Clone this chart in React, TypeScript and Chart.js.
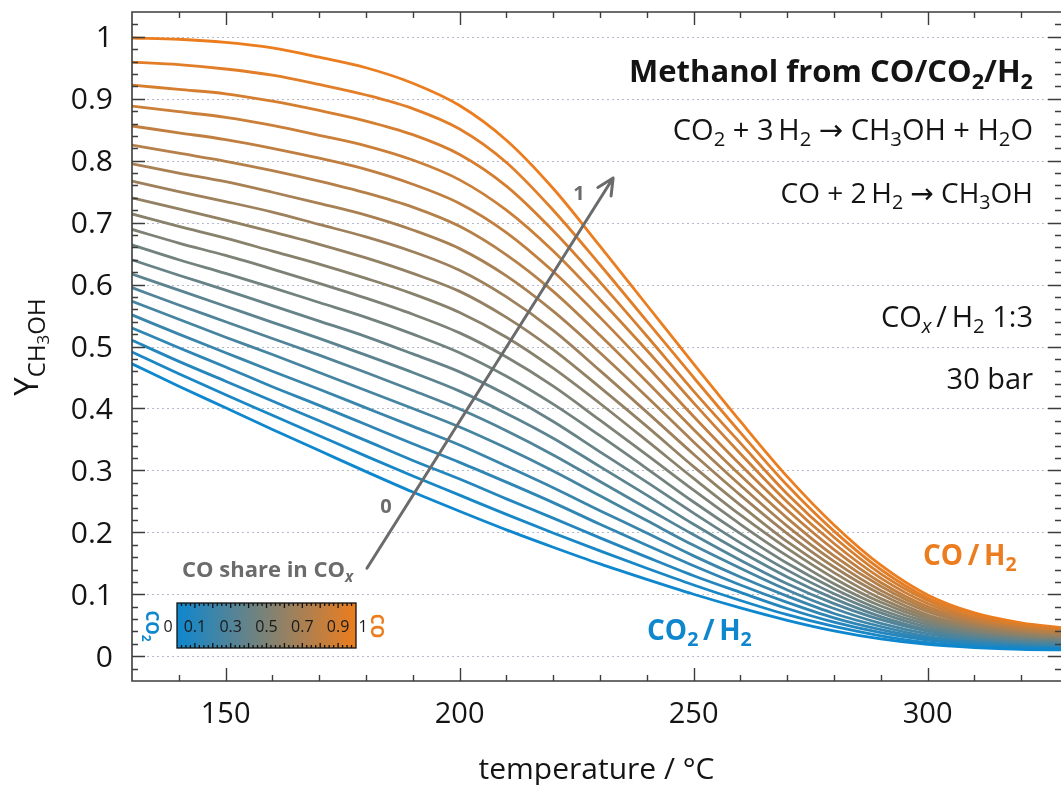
import { useEffect, useRef } from 'react';
import { Chart, registerables } from 'chart.js';

Chart.register(...registerables);

// temperature / °C
const temperatures = [130, 140, 150, 160, 170, 180, 190, 200, 210, 220, 230, 240, 250, 260, 270, 280, 290, 300, 310, 320, 330];

// methanol yield Y_CH3OH for each CO share in COx
const share00 = [0.472, 0.436, 0.401, 0.366, 0.332, 0.298, 0.265, 0.234, 0.204, 0.176, 0.149, 0.124, 0.100, 0.078, 0.058, 0.041, 0.028, 0.019, 0.014, 0.011, 0.010];
const share05 = [0.491, 0.456, 0.422, 0.389, 0.356, 0.323, 0.291, 0.260, 0.229, 0.199, 0.170, 0.142, 0.115, 0.090, 0.067, 0.048, 0.033, 0.022, 0.016, 0.013, 0.011];
const share10 = [0.510, 0.476, 0.444, 0.412, 0.380, 0.348, 0.316, 0.286, 0.254, 0.223, 0.191, 0.160, 0.130, 0.103, 0.077, 0.055, 0.038, 0.026, 0.019, 0.015, 0.013];
const share15 = [0.530, 0.498, 0.467, 0.435, 0.405, 0.374, 0.343, 0.313, 0.281, 0.248, 0.213, 0.179, 0.146, 0.115, 0.087, 0.062, 0.043, 0.029, 0.021, 0.016, 0.014];
const share20 = [0.551, 0.520, 0.490, 0.460, 0.431, 0.401, 0.371, 0.341, 0.307, 0.272, 0.235, 0.199, 0.162, 0.128, 0.097, 0.069, 0.048, 0.032, 0.023, 0.018, 0.016];
const share25 = [0.573, 0.544, 0.515, 0.487, 0.458, 0.429, 0.400, 0.370, 0.336, 0.299, 0.259, 0.219, 0.179, 0.142, 0.107, 0.077, 0.053, 0.036, 0.026, 0.020, 0.017];
const share30 = [0.595, 0.567, 0.540, 0.513, 0.486, 0.458, 0.429, 0.399, 0.364, 0.325, 0.282, 0.239, 0.196, 0.155, 0.117, 0.085, 0.059, 0.040, 0.028, 0.022, 0.019];
const share35 = [0.617, 0.591, 0.565, 0.539, 0.513, 0.486, 0.458, 0.428, 0.392, 0.352, 0.306, 0.260, 0.213, 0.169, 0.128, 0.093, 0.064, 0.043, 0.031, 0.024, 0.021];
const share40 = [0.640, 0.615, 0.591, 0.566, 0.541, 0.516, 0.488, 0.459, 0.422, 0.379, 0.330, 0.281, 0.231, 0.183, 0.139, 0.101, 0.070, 0.047, 0.034, 0.026, 0.022];
const share45 = [0.664, 0.640, 0.618, 0.595, 0.571, 0.547, 0.520, 0.490, 0.452, 0.407, 0.356, 0.303, 0.249, 0.198, 0.150, 0.109, 0.075, 0.051, 0.036, 0.028, 0.024];
const share50 = [0.689, 0.667, 0.647, 0.625, 0.602, 0.578, 0.552, 0.522, 0.483, 0.436, 0.381, 0.325, 0.268, 0.213, 0.162, 0.117, 0.081, 0.055, 0.039, 0.030, 0.026];
const share55 = [0.714, 0.694, 0.675, 0.654, 0.633, 0.610, 0.585, 0.555, 0.515, 0.465, 0.408, 0.348, 0.287, 0.228, 0.174, 0.126, 0.087, 0.059, 0.042, 0.032, 0.027];
const share60 = [0.740, 0.722, 0.704, 0.685, 0.665, 0.643, 0.618, 0.589, 0.547, 0.495, 0.434, 0.371, 0.306, 0.244, 0.185, 0.135, 0.093, 0.063, 0.045, 0.035, 0.029];
const share65 = [0.767, 0.750, 0.734, 0.717, 0.697, 0.677, 0.653, 0.623, 0.580, 0.526, 0.461, 0.394, 0.326, 0.260, 0.198, 0.144, 0.100, 0.067, 0.048, 0.037, 0.031];
const share70 = [0.795, 0.780, 0.766, 0.749, 0.731, 0.712, 0.688, 0.658, 0.614, 0.557, 0.490, 0.419, 0.346, 0.276, 0.210, 0.153, 0.106, 0.072, 0.051, 0.039, 0.033];
const share75 = [0.825, 0.812, 0.799, 0.784, 0.767, 0.748, 0.725, 0.694, 0.648, 0.589, 0.518, 0.443, 0.366, 0.292, 0.223, 0.162, 0.113, 0.076, 0.054, 0.042, 0.035];
const share80 = [0.856, 0.845, 0.834, 0.820, 0.804, 0.786, 0.762, 0.731, 0.684, 0.621, 0.547, 0.468, 0.387, 0.309, 0.236, 0.172, 0.119, 0.080, 0.057, 0.044, 0.037];
const share85 = [0.888, 0.879, 0.870, 0.857, 0.841, 0.824, 0.801, 0.769, 0.720, 0.654, 0.576, 0.494, 0.409, 0.327, 0.249, 0.182, 0.126, 0.085, 0.060, 0.046, 0.039];
const share90 = [0.922, 0.915, 0.908, 0.896, 0.881, 0.864, 0.842, 0.810, 0.759, 0.687, 0.604, 0.517, 0.428, 0.344, 0.262, 0.192, 0.133, 0.090, 0.063, 0.049, 0.041];
const share95 = [0.959, 0.955, 0.948, 0.938, 0.923, 0.906, 0.884, 0.851, 0.797, 0.720, 0.632, 0.541, 0.450, 0.361, 0.276, 0.202, 0.140, 0.094, 0.067, 0.051, 0.043];
const share100 = [0.998, 0.996, 0.991, 0.982, 0.967, 0.950, 0.925, 0.889, 0.833, 0.755, 0.662, 0.567, 0.472, 0.379, 0.290, 0.212, 0.147, 0.099, 0.070, 0.054, 0.045];

const coShares = [0, 0.05, 0.1, 0.15, 0.2, 0.25, 0.3, 0.35, 0.4, 0.45, 0.5, 0.55, 0.6, 0.65, 0.7, 0.75, 0.8, 0.85, 0.9, 0.95, 1];
const yieldSeries = [share00, share05, share10, share15, share20, share25, share30, share35, share40, share45, share50, share55, share60, share65, share70, share75, share80, share85, share90, share95, share100];

const xTickValues = [150, 200, 250, 300];
const xTickLabels = ['150', '200', '250', '300'];
const yTickValues = [0, 0.1, 0.2, 0.3, 0.4, 0.5, 0.6, 0.7, 0.8, 0.9, 1];
const yTickLabels = ['0', '0.1', '0.2', '0.3', '0.4', '0.5', '0.6', '0.7', '0.8', '0.9', '1'];
const colorbarValues = [0.1, 0.3, 0.5, 0.7, 0.9];
const colorbarLabels = ['0.1', '0.3', '0.5', '0.7', '0.9'];

const BLUE = [14, 135, 206];
const ORANGE = [236, 125, 30];
const GRAY = '#6b6b6b';
const INK = '#141414';
const FAMILY = "'Open Sans', 'DejaVu Sans', sans-serif";

function mixColor(s: number) {
  const c = BLUE.map((b, i) => Math.round(b + (ORANGE[i] - b) * s));
  return `rgb(${c[0]},${c[1]},${c[2]})`;
}

type Seg = { t: string; size: number; dy?: number; italic?: boolean };

function sub(t: string, size: number, italic = false): Seg {
  return { t, size: size * 0.7, dy: size * 0.22, italic };
}

function drawSegs(ctx: CanvasRenderingContext2D, segs: Seg[], x: number, y: number, align: 'left' | 'center' | 'right', color: string, weight = 'normal') {
  ctx.save();
  ctx.textBaseline = 'alphabetic';
  ctx.textAlign = 'left';
  ctx.fillStyle = color;
  const fontOf = (s: Seg) => `${s.italic ? 'italic ' : ''}${weight} ${s.size}px ${FAMILY}`;
  const widths = segs.map((s) => {
    ctx.font = fontOf(s);
    return ctx.measureText(s.t).width;
  });
  const w = widths.reduce((a, b) => a + b, 0);
  let cx = align === 'left' ? x : align === 'center' ? x - w / 2 : x - w;
  segs.forEach((s, i) => {
    ctx.font = fontOf(s);
    ctx.fillText(s.t, cx, y + (s.dy || 0));
    cx += widths[i];
  });
  ctx.restore();
}

const overlay = {
  id: 'overlay',
  beforeDatasetsDraw(chart: any) {
    const { ctx, chartArea: a, scales } = chart;
    ctx.save();
    ctx.strokeStyle = '#b2bacb';
    ctx.lineWidth = 1;
    ctx.setLineDash([2, 3]);
    yTickValues.forEach((v) => {
      const py = Math.round(scales.y.getPixelForValue(v)) + 0.5;
      ctx.beginPath();
      ctx.moveTo(a.left, py);
      ctx.lineTo(a.right, py);
      ctx.stroke();
    });
    ctx.restore();
  },
  afterDatasetsDraw(chart: any) {
    const { ctx, chartArea: a, scales } = chart;
    const xs = scales.x;
    const ys = scales.y;

    // frame
    ctx.save();
    ctx.strokeStyle = '#3c3c3c';
    ctx.lineWidth = 1.6;
    ctx.beginPath();
    ctx.moveTo(a.right + 2, a.top);
    ctx.lineTo(a.left, a.top);
    ctx.lineTo(a.left, a.bottom);
    ctx.lineTo(a.right + 2, a.bottom);
    ctx.stroke();

    // x ticks (inward, top and bottom)
    ctx.lineWidth = 1.4;
    for (let t = 140; t <= 330; t += 10) {
      const px = Math.round(xs.getPixelForValue(t)) + 0.5;
      if (px > a.right) break;
      const len = t % 50 === 0 ? 13 : 6;
      ctx.beginPath();
      ctx.moveTo(px, a.bottom);
      ctx.lineTo(px, a.bottom - len);
      ctx.moveTo(px, a.top);
      ctx.lineTo(px, a.top + len);
      ctx.stroke();
    }
    // y ticks (inward, left and right)
    for (let i = -1; i <= 51; i++) {
      const v = i * 0.02;
      const py = Math.round(ys.getPixelForValue(v)) + 0.5;
      if (py < a.top + 2 || py > a.bottom - 2) continue;
      const len = i % 5 === 0 ? 13 : 6;
      ctx.beginPath();
      ctx.moveTo(a.left, py);
      ctx.lineTo(a.left + len, py);
      ctx.moveTo(a.right, py);
      ctx.lineTo(a.right - len, py);
      ctx.stroke();
    }
    ctx.restore();

    // tick labels
    yTickValues.forEach((v, i) => {
      drawSegs(ctx, [{ t: yTickLabels[i], size: 30 }], a.left - 19, ys.getPixelForValue(v) + 10.5, 'right', INK);
    });
    xTickValues.forEach((v, i) => {
      drawSegs(ctx, [{ t: xTickLabels[i], size: 29 }], xs.getPixelForValue(v), a.bottom + 42, 'center', INK);
    });

    // axis titles
    drawSegs(ctx, [{ t: 'temperature / °C', size: 30 }], (a.left + 1061) / 2, 779, 'center', INK);
    ctx.save();
    ctx.translate(38, 347);
    ctx.rotate(-Math.PI / 2);
    drawSegs(ctx, [
      { t: 'Y', size: 33 },
      { t: 'CH', size: 24, dy: 7 },
      { t: '3', size: 17, dy: 11 },
      { t: 'OH', size: 24, dy: 7 },
    ], 0, 0, 'center', INK);
    ctx.restore();

    // right annotations
    const R = 1033;
    drawSegs(ctx, [{ t: 'Methanol from CO/CO', size: 31 }, sub('2', 31), { t: '/H', size: 31 }, sub('2', 31)], R, 82, 'right', INK, 'bold');
    drawSegs(ctx, [
      { t: 'CO', size: 29 }, sub('2', 29), { t: ' + 3\u2009H', size: 29 }, sub('2', 29),
      { t: ' \u2192 CH', size: 29 }, sub('3', 29), { t: 'OH + H', size: 29 }, sub('2', 29), { t: 'O', size: 29 },
    ], R, 140, 'right', INK);
    drawSegs(ctx, [
      { t: 'CO + 2\u2009H', size: 28 }, sub('2', 28), { t: ' \u2192 CH', size: 28 }, sub('3', 28), { t: 'OH', size: 28 },
    ], R, 203, 'right', INK);
    drawSegs(ctx, [
      { t: 'CO', size: 29 }, sub('x', 29, true), { t: '\u2009/\u2009H', size: 29 }, sub('2', 29), { t: ' 1:3', size: 29 },
    ], R, 327, 'right', INK);
    drawSegs(ctx, [{ t: '30 bar', size: 29 }], R, 389, 'right', INK);

    // series labels
    drawSegs(ctx, [{ t: 'CO\u2009/\u2009H', size: 28 }, sub('2', 28)], 923, 565, 'left', mixColor(1), 'bold');
    drawSegs(ctx, [{ t: 'CO', size: 28 }, sub('2', 28), { t: '\u2009/\u2009H', size: 28 }, sub('2', 28)], 647, 640, 'left', mixColor(0), 'bold');

    // arrow "CO share in COx"
    const p0x = xs.getPixelForValue(180.2);
    const p0y = ys.getPixelForValue(0.142);
    const p1x = xs.getPixelForValue(232.8);
    const p1y = ys.getPixelForValue(0.772);
    ctx.save();
    ctx.strokeStyle = GRAY;
    ctx.lineWidth = 3;
    ctx.lineCap = 'round';
    ctx.lineJoin = 'round';
    ctx.beginPath();
    ctx.moveTo(p0x, p0y);
    ctx.lineTo(p1x, p1y);
    const ang = Math.atan2(p1y - p0y, p1x - p0x);
    const hl = 18;
    ctx.moveTo(p1x - hl * Math.cos(ang - 0.45), p1y - hl * Math.sin(ang - 0.45));
    ctx.lineTo(p1x, p1y);
    ctx.lineTo(p1x - hl * Math.cos(ang + 0.45), p1y - hl * Math.sin(ang + 0.45));
    ctx.stroke();
    ctx.restore();
    drawSegs(ctx, [{ t: '0', size: 20 }], 386, 513, 'center', GRAY, 'bold');
    drawSegs(ctx, [{ t: '1', size: 20 }], 579, 200, 'center', GRAY, 'bold');
    drawSegs(ctx, [{ t: 'CO share in CO', size: 22 }, sub('x', 22, true)], 182, 577, 'left', GRAY, 'bold');

    // colour bar
    const bx0 = 177, bx1 = 356, by0 = 603, by1 = 648;
    ctx.save();
    const g = ctx.createLinearGradient(bx0, 0, bx1, 0);
    g.addColorStop(0, mixColor(0));
    g.addColorStop(0.5, mixColor(0.5));
    g.addColorStop(1, mixColor(1));
    ctx.fillStyle = g;
    ctx.fillRect(bx0, by0, bx1 - bx0, by1 - by0);
    ctx.strokeStyle = '#111';
    ctx.lineWidth = 1.3;
    for (let i = 1; i < 40; i++) {
      const px = bx0 + ((bx1 - bx0) * i) / 40;
      const len = i % 4 === 0 ? 5 : 3;
      ctx.beginPath();
      ctx.moveTo(px, by0);
      ctx.lineTo(px, by0 + len);
      ctx.moveTo(px, by1);
      ctx.lineTo(px, by1 - len);
      ctx.stroke();
    }
    ctx.strokeRect(bx0, by0, bx1 - bx0, by1 - by0);
    ctx.restore();
    colorbarValues.forEach((v, i) => {
      drawSegs(ctx, [{ t: colorbarLabels[i], size: 16 }], bx0 + (bx1 - bx0) * v, 632, 'center', '#1a1a1a');
    });
    drawSegs(ctx, [{ t: '0', size: 16 }], 168, 632, 'center', '#1a1a1a');
    drawSegs(ctx, [{ t: '1', size: 16 }], 363, 632, 'center', '#1a1a1a');
    ctx.save();
    ctx.translate(146, 626);
    ctx.rotate(Math.PI / 2);
    drawSegs(ctx, [{ t: 'CO', size: 17 }, sub('2', 17)], 0, 0, 'center', mixColor(0), 'bold');
    ctx.restore();
    ctx.save();
    ctx.translate(371, 626);
    ctx.rotate(Math.PI / 2);
    drawSegs(ctx, [{ t: 'CO', size: 17 }], 0, 0, 'center', mixColor(1), 'bold');
    ctx.restore();
  },
};

export default function App() {
  const ref = useRef<HTMLCanvasElement>(null);
  useEffect(() => {
    if (!ref.current) return;
    const datasets = yieldSeries.map((series, i) => ({
      label: `CO share ${coShares[i]}`,
      data: temperatures.map((t, j) => ({ x: t, y: series[j] })),
      borderColor: mixColor(coShares[i]),
      borderWidth: 2.8,
      pointRadius: 0,
      fill: false,
      cubicInterpolationMode: 'monotone' as const,
    }));
    const chart = new Chart(ref.current, {
      type: 'line',
      data: { datasets },
      options: {
        responsive: false,
        animation: false,
        devicePixelRatio: 1,
        layout: { padding: { left: 132, top: 12, right: 0, bottom: 104 } },
        scales: {
          x: { type: 'linear', min: 130, max: 328.5, display: false },
          y: { type: 'linear', min: -0.04, max: 1.04, display: false },
        },
        plugins: { legend: { display: false }, tooltip: { enabled: false } },
      },
      plugins: [overlay],
    });
    return () => chart.destroy();
  }, []);
  return (
    <div style={{ position: 'fixed', left: 0, top: 0, width: 1061, height: 785, overflow: 'hidden', background: '#fff' }}>
      <canvas ref={ref} width={1061} height={785} style={{ display: 'block', width: 1061, height: 785 }} />
    </div>
  );
}
